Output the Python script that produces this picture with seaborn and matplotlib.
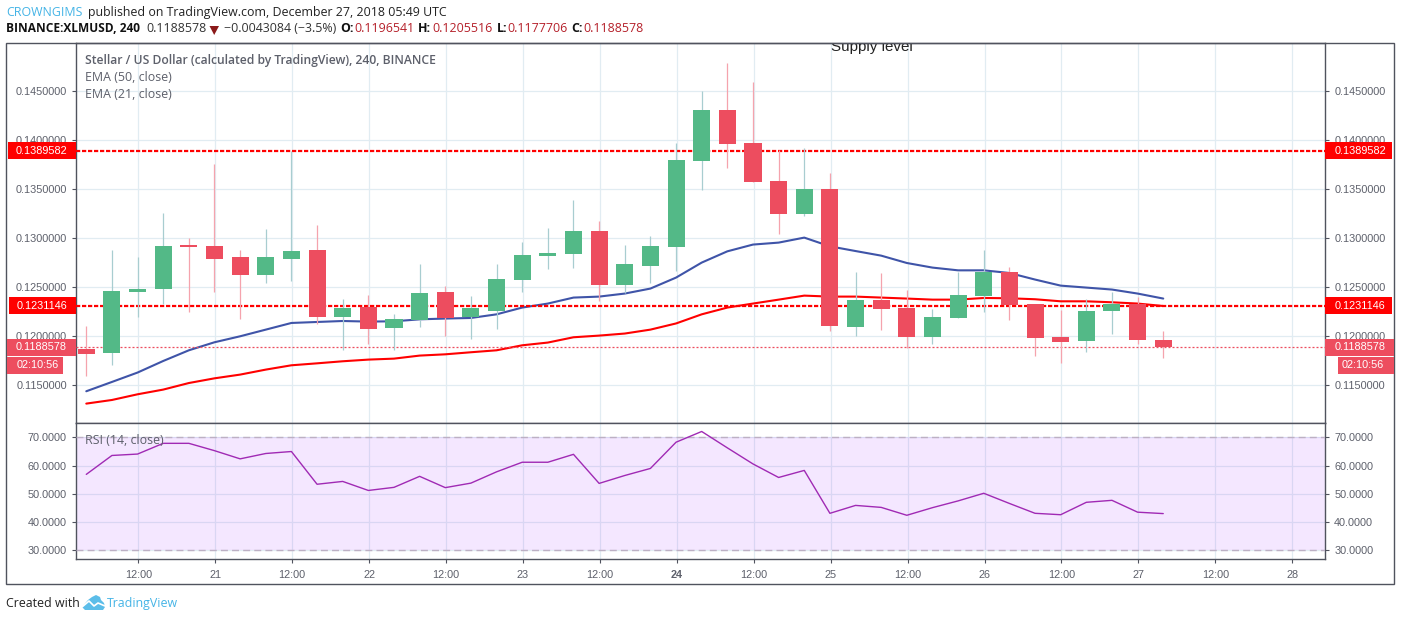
import numpy as np
import pandas as pd
import matplotlib
matplotlib.use('Agg')
import matplotlib.pyplot as plt
from matplotlib.patches import Rectangle, Polygon
from matplotlib.lines import Line2D
import seaborn as sns

# 4h candles
opens = [0.11867, 0.11827, 0.12452, 0.12480, 0.12929, 0.12918, 0.12806, 0.12622, 0.12786, 0.12878, 0.12194,
         0.12296, 0.12082, 0.12163, 0.12449, 0.12194, 0.12255, 0.12571, 0.12816, 0.12837, 0.13071, 0.12520,
         0.12714, 0.12908, 0.13786, 0.14306, 0.13969, 0.13582, 0.13245, 0.13500, 0.12092, 0.12367, 0.12286,
         0.11990, 0.12184, 0.12408, 0.12653, 0.12327, 0.11990, 0.11949, 0.12255, 0.12327, 0.1196541]
highs = [0.12102, 0.12878, 0.12806, 0.13255, 0.13000, 0.13755, 0.12878, 0.13092, 0.13891, 0.13133, 0.12378,
         0.12418, 0.12224, 0.12735, 0.12510, 0.12408, 0.12735, 0.12959, 0.13102, 0.13388, 0.13173, 0.12929,
         0.13020, 0.13969, 0.14500, 0.14786, 0.14592, 0.13898, 0.13918, 0.13663, 0.12653, 0.12643, 0.12469,
         0.12276, 0.12653, 0.12878, 0.12704, 0.12327, 0.12265, 0.12378, 0.12449, 0.12398, 0.1205516]
lows = [0.11592, 0.11704, 0.12194, 0.12327, 0.12245, 0.12449, 0.12173, 0.12541, 0.12561, 0.12122, 0.11857,
        0.11918, 0.11857, 0.12092, 0.12000, 0.11969, 0.12071, 0.12449, 0.12684, 0.12694, 0.12357, 0.12439,
        0.12541, 0.12663, 0.13490, 0.13714, 0.13571, 0.13041, 0.13224, 0.12051, 0.12000, 0.12061, 0.11878,
        0.11918, 0.12184, 0.12245, 0.12163, 0.11796, 0.11724, 0.11837, 0.12020, 0.11918, 0.1177706]
closes = [0.11816, 0.12459, 0.12480, 0.12918, 0.12908, 0.12786, 0.12622, 0.12806, 0.12867, 0.12194, 0.12286,
          0.12071, 0.12173, 0.12439, 0.12184, 0.12286, 0.12582, 0.12827, 0.12847, 0.13071, 0.12520, 0.12735,
          0.12918, 0.13796, 0.14306, 0.13959, 0.13571, 0.13245, 0.13500, 0.12102, 0.12367, 0.12276, 0.11990,
          0.12194, 0.12418, 0.12653, 0.12316, 0.11980, 0.11939, 0.12255, 0.12327, 0.11959, 0.1188578]
ema_50 = [0.11439, 0.11534, 0.11630, 0.11748, 0.11857, 0.11939, 0.12000, 0.12068, 0.12136, 0.12146, 0.12156,
          0.12150, 0.12153, 0.12173, 0.12181, 0.12187, 0.12224, 0.12293, 0.12334, 0.12395, 0.12405, 0.12436,
          0.12487, 0.12599, 0.12752, 0.12867, 0.12936, 0.12956, 0.13007, 0.12918, 0.12870, 0.12823, 0.12748,
          0.12701, 0.12673, 0.12673, 0.12646, 0.12579, 0.12517, 0.12497, 0.12477, 0.12436, 0.12385]
ema_21 = [0.11313, 0.11350, 0.11408, 0.11456, 0.11523, 0.11571, 0.11609, 0.11660, 0.11704, 0.11724, 0.11745,
          0.11762, 0.11772, 0.11803, 0.11816, 0.11837, 0.11857, 0.11908, 0.11936, 0.11990, 0.12007, 0.12028,
          0.12068, 0.12131, 0.12224, 0.12293, 0.12334, 0.12374, 0.12415, 0.12405, 0.12405, 0.12395, 0.12385,
          0.12374, 0.12374, 0.12391, 0.12388, 0.12378, 0.12357, 0.12357, 0.12347, 0.12334, 0.12309]
rsi = [56.9, 63.6, 64.1, 67.9, 67.9, 65.3, 62.4, 64.3, 65.0, 53.4, 54.4, 51.2, 52.3, 56.2, 52.2, 53.8, 57.8,
       61.2, 61.2, 64.0, 53.7, 56.5, 59.0, 68.3, 72.1, 66.3, 60.6, 55.8, 58.3, 43.1, 45.9, 45.2, 42.4, 45.1,
       47.5, 50.2, 46.6, 43.1, 42.6, 47.0, 47.7, 43.5, 43.0]

level_high = 0.1389582
level_low = 0.1231146
last_price = 0.1188578
price_ticks = [0.115, 0.12, 0.125, 0.13, 0.135, 0.14, 0.145]
rsi_ticks = [30, 40, 50, 60, 70]
time_labels = ['12:00', '21', '12:00', '22', '12:00', '23', '12:00', '24', '12:00', '25', '12:00', '26',
               '12:00', '27', '12:00', '28']

W, H = 1401, 621
GREEN = '#53b987'
RED = '#ed4d5f'
GRID = '#e1ecf2'
DARK = '#50535e'
TXT = '#5d606b'
BLUE_TXT = '#45b4e6'
VAL_RED = '#b5202a'

sns.set_theme(style='white')
plt.rcParams['font.family'] = ['Liberation Sans', 'DejaVu Sans']

df = pd.DataFrame({'i': np.arange(len(opens)), 'open': opens, 'high': highs, 'low': lows, 'close': closes,
                   'ema_50': ema_50, 'ema_21': ema_21, 'rsi': rsi})
df['up'] = df['close'] >= df['open']
df['top'] = df[['open', 'close']].max(axis=1)
df['bottom'] = df[['open', 'close']].min(axis=1)


def axes_box(x0, y0, x1, y1):
    return [x0 / W, 1 - y1 / H, (x1 - x0) / W, (y1 - y0) / H]


def fx(x):
    return x / W


def fy(y):
    return 1 - y / H


def ftext(x, y, s, **kw):
    kw.setdefault('va', 'center')
    kw.setdefault('ha', 'left')
    return fig.text(fx(x), fy(y), s, **kw)


def frect(x0, y0, x1, y1, **kw):
    fig.add_artist(Rectangle((fx(x0), fy(y1)), (x1 - x0) / W, (y1 - y0) / H, transform=fig.transFigure, **kw))


fig = plt.figure(figsize=(W / 100, H / 100), dpi=100, facecolor='white')
ax = fig.add_axes(axes_box(75.7, 43.3, 1325.3, 423.3))
ax_rsi = fig.add_axes(axes_box(75.7, 423.3, 1325.3, 559.3), sharex=ax)

# outer frame
frect(6.3, 43.3, 1394.3, 584, fill=False, edgecolor=DARK, linewidth=1.0, zorder=1)

# candles
for up, part in df.groupby('up'):
    ax.vlines(part['i'], part['low'], part['high'], color='#a8cdd0' if up else '#f5a3ad', linewidth=0.9, zorder=3)
    ax.bar(part['i'], part['top'] - part['bottom'], bottom=part['bottom'], width=0.665,
           color=GREEN if up else RED, linewidth=0, zorder=4)

# moving averages
sns.lineplot(data=df, x='i', y='ema_50', ax=ax, color='#3f54a8', linewidth=1.5, zorder=2.5)
sns.lineplot(data=df, x='i', y='ema_21', ax=ax, color='#ff0000', linewidth=1.5, zorder=2.6)

# horizontal levels
for level in [level_high, level_low]:
    ax.axhline(level, color='#ff0000', linewidth=1.6, linestyle=(0, (1.9, 0.8)), zorder=2.7)
ax.axhline(last_price, color=RED, linewidth=0.9, linestyle=(0, (1.6, 1.6)), zorder=2.7)

# rsi panel
sns.lineplot(data=df, x='i', y='rsi', ax=ax_rsi, color='#a02ab4', linewidth=1.0, zorder=4)
ax_rsi.axhspan(30, 70, color='#9915ff', alpha=0.1, linewidth=0, zorder=2)
for level in [30, 70]:
    ax_rsi.axhline(level, color='#bdb0c4', linewidth=1.0, linestyle=(0, (5, 3)), zorder=3)

tick_pos = 2.03 + 3 * np.arange(len(time_labels))
for a in [ax, ax_rsi]:
    a.set_xlim(-0.413, 48.32)
    a.set_xticks(tick_pos)
    a.set_xlabel('')
    a.set_ylabel('')
    a.grid(True, color=GRID, linewidth=0.9, zorder=0)
    a.set_axisbelow(True)
    for s in a.spines.values():
        s.set_color(DARK)
        s.set_linewidth(1.0)
    a.tick_params(axis='y', left=True, right=True, labelleft=True, labelright=True, length=3, width=0.8,
                  color=DARK, labelcolor=TXT, labelsize=7.8, pad=3.4)

ax.set_ylim(0.11112, 0.1499)
ax.set_yticks(price_ticks)
ax.set_yticklabels([f'{t:.7f}' for t in price_ticks])
ax.tick_params(axis='x', bottom=False, labelbottom=False)

ax_rsi.set_ylim(26.8, 75.0)
ax_rsi.set_yticks(rsi_ticks)
ax_rsi.set_yticklabels([f'{t:.4f}' for t in rsi_ticks])
ax_rsi.set_xticklabels(time_labels)
ax_rsi.tick_params(axis='x', bottom=True, length=3, width=0.8, color=DARK, labelcolor=TXT, labelsize=7.8, pad=5)
for lab in ax_rsi.get_xticklabels():
    if lab.get_text() == '24':
        lab.set_fontweight('bold')


# price tags on both scales, placed from the level values
def price_y(value):
    return H - ax.transData.transform((0, value))[1]


for value, color, lx, rx in [(level_high, '#ff0000', 8, 1392), (level_low, '#ff0000', 9, 1392), (last_price, RED, 6.7, 1394)]:
    yc = price_y(value)
    frect(lx, yc - 8.5, 76, yc + 8.5, facecolor=color, linewidth=0, zorder=2)
    frect(1325.3, yc - 8.5, rx, yc + 8.5, facecolor=color, linewidth=0, zorder=2)
    ftext(67, yc, f'{value:.7f}', ha='right', color='white', fontsize=7.8, zorder=3)
    ftext(1335, yc, f'{value:.7f}', color='white', fontsize=7.8, zorder=3)

yc = price_y(last_price) + 18
frect(7, yc - 8.5, 63, yc + 8.5, facecolor=RED, linewidth=0, zorder=2)
frect(1338, yc - 8.5, 1394, yc + 8.5, facecolor=RED, linewidth=0, zorder=2)
ftext(58.5, yc, '02:10:56', ha='right', color='white', fontsize=7.8, zorder=3)
ftext(1342, yc, '02:10:56', color='white', fontsize=7.8, zorder=3)

# in-chart labels
osans = 'Open Sans'
ftext(85, 60.5, 'Stellar / US Dollar (calculated by TradingView), 240, BINANCE', color=TXT, fontsize=8.77,
      family=osans, fontweight='semibold')
ftext(85, 77.5, 'EMA (50, close)', color=TXT, fontsize=8.9, family=osans)
ftext(85, 94.5, 'EMA (21, close)', color=TXT, fontsize=8.9, family=osans)
ftext(85, 441, 'RSI (14, close)', color=TXT, fontsize=8.9, family=osans)
supply = ftext(831, 47, 'Supply level', color='#222222', fontsize=10.9, zorder=0.5)
supply.set_clip_box(ax.bbox)
supply.set_clip_on(True)

# header
ftext(6.5, 12.5, 'CROWNGIMS', color=BLUE_TXT, fontsize=8.9, family=osans)
ftext(87.5, 12.5, 'published on TradingView.com, December 27, 2018 05:49 UTC', color='#222222', fontsize=8.9, family=osans)
ftext(6.5, 29, 'BINANCE:XLMUSD, 240', color='#111111', fontsize=8.55, family=osans, fontweight='bold')
ftext(146.7, 29, '0.1188578', color='#333333', fontsize=8.9, family=osans)
fig.add_artist(Polygon([(fx(209.5), fy(26)), (fx(219), fy(26)), (fx(214.2), fy(35))], closed=True,
                       transform=fig.transFigure, facecolor='#8b1a1a', linewidth=0, zorder=2))
ftext(223.5, 29, '−0.0043084 (−3.5%)', color='#333333', fontsize=8.9, family=osans)
for x_lab, lab, x_val, val in [(340, 'O:', 354, '0.1196541'), (418, 'H:', 432, '0.1205516'),
                               (496.7, 'L:', 507, '0.1177706'), (571.7, 'C:', 583, '0.1188578')]:
    ftext(x_lab, 29, lab, color='#111111', fontsize=8.9, family=osans, fontweight='bold')
    ftext(x_val, 29, val, color=VAL_RED, fontsize=8.9, family=osans)

# footer with logo
ftext(6.5, 603.5, 'Created with', color='#222222', fontsize=8.9, family=osans)
ftext(106.5, 603.5, 'TradingView', color=BLUE_TXT, fontsize=8.9, family=osans)
cloud = [(82, 607), (88, 600), (92, 597), (96, 595), (100, 597), (101, 600), (104, 603), (105, 607), (103, 610), (85, 610)]
fig.add_artist(Polygon([(fx(x), fy(y)) for x, y in cloud], closed=True, transform=fig.transFigure,
                       facecolor='#5bbde9', linewidth=0, zorder=2))
fig.add_artist(Line2D([fx(x) for x in (82, 89, 94, 98, 105)], [fy(y) for y in (607, 601, 606, 603, 606)],
                      transform=fig.transFigure, color='white', linewidth=1.2, zorder=2.5))

fig.savefig('out.png', dpi=100)
